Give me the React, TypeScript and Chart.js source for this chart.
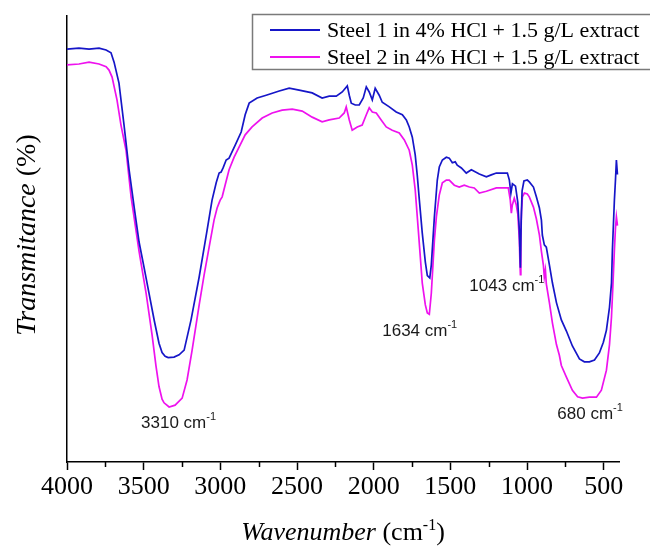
import { useEffect, useRef } from 'react'
import { Chart, registerables } from 'chart.js'
import type { Plugin } from 'chart.js'

Chart.register(...registerables)

const seriesNames = ['Steel 1 in 4% HCl + 1.5 g/L extract', 'Steel 2 in 4% HCl + 1.5 g/L extract']
const seriesColors = ['#1616c8', '#ee12ee']

// Steel 1 (blue)
const steel1Wn = [
  4000, 3922, 3856, 3791, 3745, 3713, 3693, 3661, 3628, 3595, 3560, 3530, 3500, 3465, 3430, 3400,
  3380, 3360, 3340, 3302, 3269, 3236, 3191, 3138, 3086, 3054, 3027, 3008, 2995, 2982, 2962, 2943,
  2903, 2864, 2838, 2812, 2760, 2701, 2616, 2551, 2486, 2401, 2336, 2290, 2244, 2205, 2172, 2159,
  2146, 2120, 2094, 2068, 2048, 2029, 2009, 1990, 1964, 1944, 1898, 1853, 1813, 1787, 1768, 1748,
  1729, 1716, 1702, 1683, 1663, 1650, 1634, 1624, 1604, 1585, 1572, 1552, 1526, 1507, 1487, 1468,
  1455, 1428, 1396, 1363, 1311, 1265, 1233, 1200, 1161, 1128, 1115, 1105, 1095, 1075, 1060, 1050,
  1043, 1038, 1032, 1020, 998, 985, 958, 939, 919, 906, 900, 887, 874, 854, 834, 808, 776, 743,
  704, 658, 626, 593, 560, 528, 502, 482, 462, 449, 443, 430, 423, 417, 410,
]
const steel1T = [
  92.9, 93.1, 92.9, 93.1, 92.7, 92.1, 90.1, 85.6, 76.6, 67.0, 58.5, 51.5, 46.5, 40.5, 34.5, 29.8,
  27.8, 27.0, 26.7, 26.8, 27.3, 28.3, 34.8, 44.0, 54.1, 60.5, 64.2, 66.3, 66.5, 67.4, 69.1, 69.5,
  72.3, 75.1, 78.8, 81.3, 82.4, 83.0, 83.9, 84.5, 84.1, 83.5, 82.4, 82.8, 82.8, 83.7, 85.0, 83.0,
  81.3, 80.9, 80.9, 82.4, 84.8, 83.7, 82.0, 84.5, 83.0, 81.5, 80.5, 79.4, 78.8, 77.7, 76.2, 74.0,
  70.2, 65.9, 60.5, 53.4, 47.2, 44.3, 43.8, 46.6, 56.9, 64.8, 67.6, 69.1, 69.7, 69.5, 68.5, 68.7,
  68.0, 67.4, 66.3, 67.0, 66.1, 65.5, 65.9, 66.3, 66.3, 66.3, 64.8, 62.0, 64.0, 63.5, 60.0, 54.0,
  46.0, 56.0, 62.5, 64.6, 64.8, 64.4, 63.3, 61.2, 58.8, 56.2, 53.0, 50.9, 50.4, 46.6, 42.7, 38.5,
  34.8, 32.4, 29.2, 26.4, 25.8, 25.8, 26.2, 27.7, 30.0, 32.6, 37.5, 42.7, 49.8, 60.5, 64.8, 69.1,
  66.0,
]

// Steel 2 (magenta)
const steel2Wn = [
  4000, 3922, 3856, 3791, 3745, 3726, 3706, 3674, 3648, 3615, 3582, 3530, 3484, 3445, 3420, 3400,
  3380, 3367, 3334, 3295, 3249, 3217, 3184, 3138, 3106, 3073, 3041, 3021, 3008, 3001, 2988, 2969,
  2943, 2910, 2877, 2838, 2793, 2727, 2662, 2597, 2531, 2466, 2401, 2336, 2290, 2225, 2192, 2179,
  2159, 2140, 2107, 2075, 2048, 2029, 2009, 1983, 1951, 1918, 1879, 1833, 1800, 1768, 1748, 1729,
  1709, 1683, 1663, 1650, 1637, 1624, 1604, 1591, 1572, 1552, 1526, 1507, 1474, 1442, 1409, 1376,
  1344, 1311, 1265, 1200, 1148, 1122, 1109, 1102, 1096, 1083, 1070, 1060, 1050, 1046, 1043, 1040,
  1036, 1030, 1017, 998, 985, 958, 939, 919, 906, 893, 887, 880, 874, 854, 834, 808, 789, 776, 743,
  704, 670, 638, 593, 547, 515, 482, 462, 449, 440, 430, 423, 417, 410,
]
const steel2T = [
  89.5, 89.7, 90.1, 89.7, 89.1, 88.4, 86.9, 82.0, 76.6, 71.2, 61.2, 49.5, 40.5, 31.5, 25.0, 20.5,
  17.8, 17.0, 16.1, 16.5, 18.0, 21.9, 28.3, 38.0, 44.4, 50.4, 56.2, 58.8, 59.9, 60.5, 61.2, 63.7,
  67.0, 69.7, 71.9, 74.5, 76.2, 78.1, 79.2, 79.8, 80.0, 79.6, 78.3, 77.3, 77.7, 78.1, 79.2, 80.5,
  77.7, 75.5, 76.2, 76.6, 78.8, 80.3, 79.4, 79.2, 77.7, 76.2, 75.5, 74.9, 73.4, 71.2, 68.0, 62.7,
  54.1, 42.7, 38.0, 36.3, 36.0, 40.5, 51.9, 56.9, 61.6, 64.2, 64.8, 64.8, 63.7, 63.3, 63.7, 63.3,
  63.1, 62.0, 62.4, 63.1, 63.1, 63.1, 60.5, 57.7, 59.4, 60.9, 59.5, 57.5, 52.0, 47.0, 44.5, 52.0,
  58.0, 61.2, 62.0, 61.8, 61.2, 59.0, 56.5, 53.0, 49.5, 46.5, 44.0, 45.5, 42.5, 38.5, 34.1, 29.5,
  27.2, 25.0, 22.5, 19.7, 18.3, 18.0, 18.2, 18.2, 19.7, 24.0, 29.5, 35.4, 42.0, 49.8, 54.5, 56.9,
  55.0,
]

const majorTicks = [4000, 3500, 3000, 2500, 2000, 1500, 1000, 500]
const minorTicks = [3750, 3250, 2750, 2250, 1750, 1250, 750]

// peak labels: text, left edge (cm-1) and vertical centre (T)
const peakNames = ['3310', '1634', '1043', '680']
const peakLabelWn = [3517, 1944, 1376, 802]
const peakLabelT = [12.9, 32.6, 42.3, 14.8]

const X_MIN = 400
const X_MAX = 4000
const Y_MIN = 4.3
const Y_MAX = 100

const SERIF = '"Liberation Serif", "Times New Roman", serif'
const SANS = '"Liberation Sans", Arial, sans-serif'

type Part = { text: string; font: string; dy?: number }

function partsWidth(ctx: CanvasRenderingContext2D, parts: Part[]) {
  let w = 0
  parts.forEach((p) => {
    ctx.font = p.font
    w += ctx.measureText(p.text).width
  })
  return w
}

function drawParts(ctx: CanvasRenderingContext2D, parts: Part[], x: number, y: number) {
  let cx = x
  parts.forEach((p) => {
    ctx.font = p.font
    ctx.fillText(p.text, cx, y + (p.dy ?? 0))
    cx += ctx.measureText(p.text).width
  })
}

const decorPlugin: Plugin<'line'> = {
  id: 'decor',
  afterDraw(chart) {
    const { ctx, chartArea } = chart
    const xs = chart.scales.x
    const ys = chart.scales.y
    ctx.save()

    // minor ticks
    ctx.strokeStyle = '#000'
    ctx.lineWidth = 1.5
    minorTicks.forEach((v) => {
      const px = Math.round(xs.getPixelForValue(v)) + 0.5
      ctx.beginPath()
      ctx.moveTo(px, chartArea.bottom)
      ctx.lineTo(px, chartArea.bottom + 5)
      ctx.stroke()
    })

    // peak labels
    ctx.fillStyle = '#1a1a1a'
    ctx.textBaseline = 'alphabetic'
    ctx.textAlign = 'left'
    peakNames.forEach((name, i) => {
      const px = xs.getPixelForValue(peakLabelWn[i])
      const py = ys.getPixelForValue(peakLabelT[i])
      drawParts(
        ctx,
        [
          { text: name + ' cm', font: `17px ${SANS}` },
          { text: '-1', font: `11px ${SANS}`, dy: -8 },
        ],
        px,
        py + 6
      )
    })

    // legend box
    const lx = 252
    const ly = 14
    ctx.strokeStyle = '#7a7a7a'
    ctx.lineWidth = 1.5
    ctx.strokeRect(lx + 0.5, ly + 0.5, 420, 55)
    ctx.textBaseline = 'middle'
    chart.data.datasets.forEach((ds, i) => {
      const yy = ly + 16 + i * 27
      ctx.strokeStyle = ds.borderColor as string
      ctx.lineWidth = 2
      ctx.beginPath()
      ctx.moveTo(lx + 18, yy)
      ctx.lineTo(lx + 68, yy)
      ctx.stroke()
      ctx.fillStyle = '#000'
      ctx.font = `22px ${SERIF}`
      ctx.fillText(ds.label ?? '', lx + 75, yy + 1)
    })

    // x title
    ctx.fillStyle = '#000'
    ctx.textBaseline = 'alphabetic'
    const xParts: Part[] = [
      { text: 'Wavenumber', font: `italic 26px ${SERIF}` },
      { text: ' (cm', font: `26px ${SERIF}` },
      { text: '-1', font: `16px ${SERIF}`, dy: -10 },
      { text: ')', font: `26px ${SERIF}` },
    ]
    const xw = partsWidth(ctx, xParts)
    drawParts(ctx, xParts, (chartArea.left + chartArea.right) / 2 - xw / 2, 540)

    // y title
    const yParts: Part[] = [
      { text: 'Transmitance', font: `italic 28px ${SERIF}` },
      { text: ' (%)', font: `28px ${SERIF}` },
    ]
    const yw = partsWidth(ctx, yParts)
    ctx.translate(28, (chartArea.top + chartArea.bottom) / 2 - 4)
    ctx.rotate(-Math.PI / 2)
    ctx.textBaseline = 'middle'
    drawParts(ctx, yParts, -yw / 2, 0)

    ctx.restore()
  },
}

export default function App() {
  const canvasRef = useRef<HTMLCanvasElement>(null)
  const chartRef = useRef<Chart<'line'> | null>(null)

  useEffect(() => {
    if (!canvasRef.current) return
    chartRef.current?.destroy()

    const wns = [steel1Wn, steel2Wn]
    const ts = [steel1T, steel2T]

    chartRef.current = new Chart(canvasRef.current, {
      type: 'line',
      data: {
        datasets: seriesNames.map((name, i) => ({
          label: name,
          data: wns[i].map((w, j) => ({ x: w, y: ts[i][j] })),
          borderColor: seriesColors[i],
          backgroundColor: seriesColors[i],
          borderWidth: 1.7,
          pointRadius: 0,
          tension: 0,
          fill: false,
        })),
      },
      options: {
        responsive: false,
        animation: false,
        layout: { padding: { left: 0, top: 16, right: 31, bottom: 0 } },
        plugins: {
          legend: { display: false },
          tooltip: { enabled: false },
        },
        scales: {
          x: {
            type: 'linear',
            reverse: true,
            min: X_MIN,
            max: X_MAX,
            afterBuildTicks: (s) => {
              s.ticks = majorTicks.map((v) => ({ value: v }))
            },
            afterFit: (s) => {
              s.height = 85
            },
            ticks: {
              color: '#000',
              font: { family: SERIF, size: 26 },
              padding: 2,
              maxRotation: 0,
              autoSkip: false,
              callback: (v) => String(v),
            },
            grid: {
              display: true,
              drawOnChartArea: false,
              drawTicks: true,
              tickLength: 8,
              tickWidth: 1.5,
              tickColor: '#000',
            },
            border: { display: true, color: '#000', width: 1.5 },
          },
          y: {
            min: Y_MIN,
            max: Y_MAX,
            afterFit: (s) => {
              s.width = 67
            },
            ticks: { display: false },
            grid: { display: false },
            border: { display: true, color: '#000', width: 1.5 },
          },
        },
      },
      plugins: [decorPlugin],
    })

    return () => {
      chartRef.current?.destroy()
      chartRef.current = null
    }
  }, [])

  return (
    <div style={{ position: 'absolute', left: 0, top: 0, width: 650, height: 547, background: '#fff' }}>
      <canvas ref={canvasRef} width={650} height={547} />
    </div>
  )
}
